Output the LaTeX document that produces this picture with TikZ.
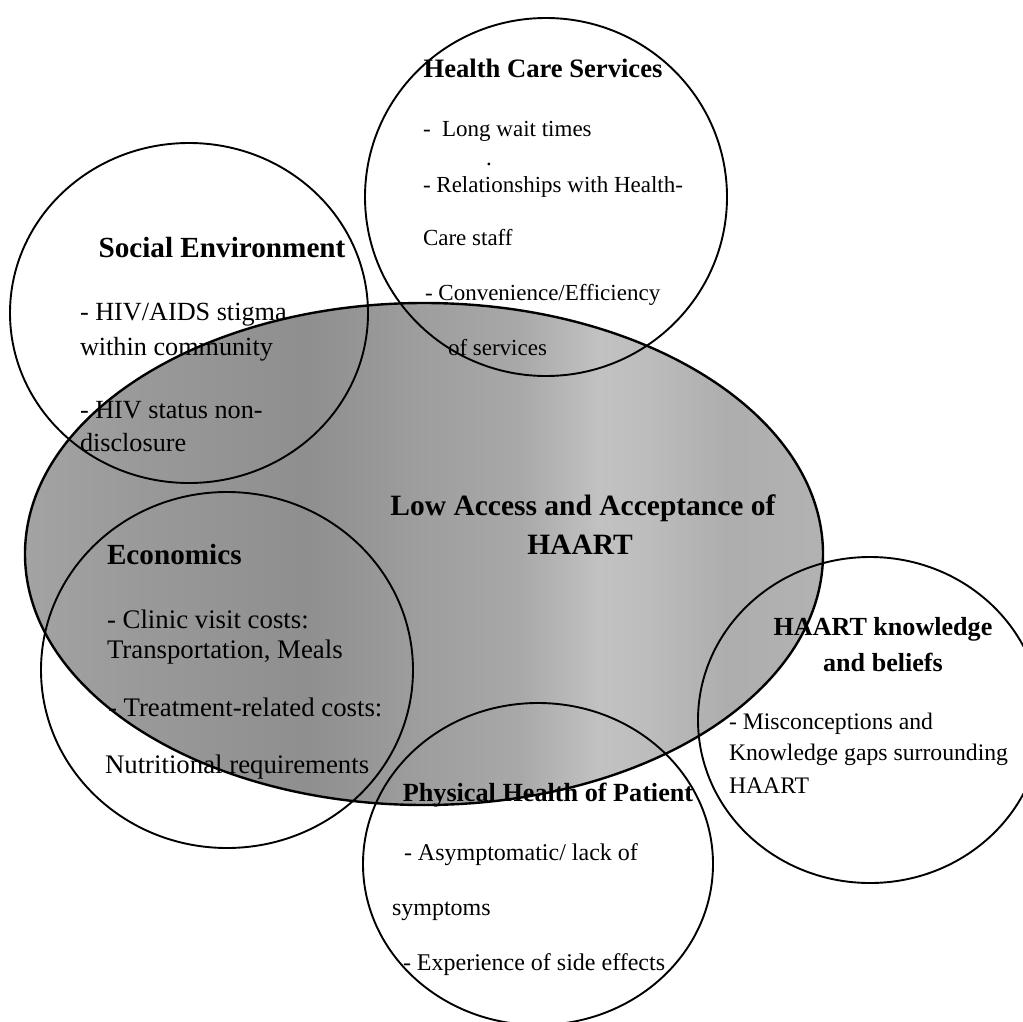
\documentclass[tikz,border=0pt]{standalone}
\usepackage{fontspec}
\setmainfont{Liberation Serif}
\usetikzlibrary{shapes.geometric}
\pgfdeclarehorizontalshading{greyband}{100bp}{%
  color(0bp)=(black!36);
  color(25bp)=(black!36);
  color(32.5bp)=(black!40);
  color(42.5bp)=(black!44);
  color(50bp)=(black!38);
  color(56bp)=(black!34);
  color(61bp)=(black!24);
  color(64bp)=(black!26);
  color(69bp)=(black!32);
  color(75bp)=(black!30);
  color(100bp)=(black!30)}
\tikzset{
  ring/.style={ellipse, draw=black, line width=0.95pt, inner sep=0pt, fill=none},
  txt/.style={inner sep=0pt, outer sep=0pt, anchor=base west},
  ttl/.style={inner sep=0pt, outer sep=0pt, anchor=base, font=\bfseries},
}
\newcommand{\fs}[1]{\fontsize{#1}{#1}\selectfont}
\begin{document}
\begin{tikzpicture}[x=0.5pt,y=-0.5pt]
\useasboundingbox (0,0) rectangle (1023,1022);
\fill[white] (0,0) rectangle (1023,1022);
\clip (0,0) rectangle (1023,1022);
% central ellipse
\node[ellipse, draw=black, line width=1.2pt, inner sep=0pt, shading=greyband,
      minimum width=399pt, minimum height=251pt] (core) at (424,554) {};
% surrounding circles
\node[ring, minimum width=181pt, minimum height=179pt] (hcs) at (546,197) {};
\node[ring, minimum width=179pt, minimum height=170pt] (soc) at (189,313) {};
\node[ring, minimum width=186pt, minimum height=178pt] (eco) at (227,670) {};
\node[ring, minimum width=172pt, minimum height=163pt] (know) at (870,720) {};
\node[ring, minimum width=175pt, minimum height=161pt] (phys) at (538,864) {};
% Health Care Services
\node[ttl, font=\bfseries\fs{13.3pt}] (hcsT) at (543,78) {Health Care Services};
\node[txt, font=\fs{11.5pt}] (hcs1) at (423,137) {-\ \ Long wait times};
\node[txt, font=\fs{11.5pt}] (hcsdot) at (486,166) {.};
\node[txt, font=\fs{11.5pt}] (hcs2) at (423,192) {- Relationships with Health-};
\node[txt, font=\fs{11.5pt}] (hcs3) at (423,245) {Care staff};
\node[txt, font=\fs{11.5pt}] (hcs4) at (425,300) {- Convenience/Efficiency};
\node[txt, font=\fs{11.5pt}] (hcs5) at (448,355) {of services};
% Social Environment
\node[ttl, font=\bfseries\fs{14.6pt}] (socT) at (222,257) {Social Environment};
\node[txt, font=\fs{13.1pt}] (soc1) at (80,320) {- HIV/AIDS stigma};
\node[txt, font=\fs{13.1pt}] (soc2) at (80,355) {within community};
\node[txt, font=\fs{13.1pt}] (soc3) at (80,418) {- HIV status non-};
\node[txt, font=\fs{13.1pt}] (soc4) at (80,451) {disclosure};
% Economics
\node[txt, font=\bfseries\fs{14.6pt}] (ecoT) at (107,564) {Economics};
\node[txt, font=\fs{13.4pt}] (eco1) at (107,628) {- Clinic visit costs:};
\node[txt, font=\fs{13.4pt}] (eco2) at (107,658) {Transportation, Meals};
\node[txt, font=\fs{13.4pt}] (eco3) at (108,716) {- Treatment-related costs:};
\node[txt, font=\fs{13.4pt}] (eco4) at (105,773) {Nutritional requirements};
% centre
\node[ttl, font=\bfseries\fs{14.75pt}] (coreT1) at (583,515) {Low Access and Acceptance of};
\node[ttl, font=\bfseries\fs{14.75pt}] (coreT2) at (580,554) {HAART};
% HAART knowledge
\node[ttl, font=\bfseries\fs{13.05pt}] (knowT1) at (883,635) {HAART knowledge};
\node[ttl, font=\bfseries\fs{13.05pt}] (knowT2) at (883,671) {and beliefs};
\node[txt, font=\fs{11.85pt}] (know1) at (729,729) {- Misconceptions and};
\node[txt, font=\fs{11.85pt}] (know2) at (729,760) {Knowledge gaps surrounding};
\node[txt, font=\fs{11.85pt}] (know3) at (729,793) {HAART};
% Physical Health
\node[ttl, font=\bfseries\fs{13.1pt}] (physT) at (548,801) {Physical Health of Patient};
\node[txt, font=\fs{12pt}] (phys1) at (398,860) {\ - Asymptomatic/ lack of};
\node[txt, font=\fs{12pt}] (phys2) at (392,915) {symptoms};
\node[txt, font=\fs{12pt}] (phys3) at (403,970) {- Experience of side effects};
\end{tikzpicture}
\end{document}
